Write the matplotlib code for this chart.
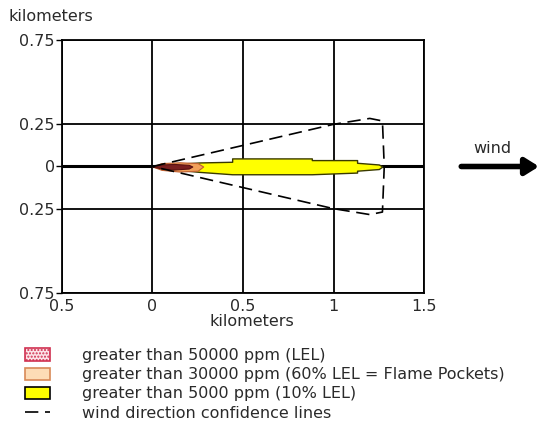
import matplotlib
matplotlib.use("Agg")
import matplotlib.pyplot as plt
from matplotlib.patches import Patch
from matplotlib.lines import Line2D

# ticks (labels shown without sign, as in the original)
x_ticks = [-0.5, 0, 0.5, 1, 1.5]
x_labels = ["0.5", "0", "0.5", "1", "1.5"]
y_ticks = [0.75, 0.25, 0, -0.25, -0.75]
y_labels = ["0.75", "0.25", "0", "0.25", "0.75"]

# plume footprints, km downwind / km crosswind
yellow_x = [0, 0.1, 0.26, 0.44, 0.44, 0.88, 0.88, 1.13, 1.13, 1.25, 1.27]
yellow_top = [0, 0.014, 0.024, 0.028, 0.048, 0.048, 0.038, 0.038, 0.022, 0.012, 0]
yellow_bot = [0, -0.016, -0.032, -0.046, -0.046, -0.046, -0.046, -0.036, -0.025, -0.015, 0]

orange_x = [0, 0.05, 0.15, 0.25, 0.28]
orange_top = [0, 0.02, 0.025, 0.02, 0]
orange_bot = [0, -0.02, -0.03, -0.025, 0]

red_x = [0, 0.05, 0.12, 0.2, 0.22]
red_top = [0, 0.012, 0.015, 0.01, 0]
red_bot = [0, -0.012, -0.018, -0.012, 0]

# wind direction confidence lines
conf_x = [0, 1.0, 1.2, 1.27, 1.28, 1.27, 1.2, 1.0, 0]
conf_y = [0, 0.25, 0.285, 0.27, 0, -0.27, -0.285, -0.25, 0]

legend_labels = [
    "greater than 50000 ppm (LEL)",
    "greater than 30000 ppm (60% LEL = Flame Pockets)",
    "greater than 5000 ppm (10% LEL)",
    "wind direction confidence lines",
]

plt.rcParams['font.family'] = ['DejaVu Sans']
fs = 11.5
txt = '#2a2a2a'

fig = plt.figure(figsize=(5.58, 4.37), dpi=100)
ax = fig.add_axes([0.111, 0.3295, 0.649, 0.579])

ax.set_xlim(-0.5, 1.5)
ax.set_ylim(-0.75, 0.75)
ax.set_xticks(x_ticks)
ax.set_xticklabels(x_labels, fontsize=fs, color=txt)
ax.set_yticks(y_ticks)
ax.set_yticklabels(y_labels, fontsize=fs, color=txt)
ax.tick_params(axis='x', length=0, pad=4)
ax.tick_params(axis='y', length=4, width=1, pad=1)
ax.grid(True, color='black', lw=1.3)
ax.axhline(0, color='black', lw=2.2, zorder=1)
for s in ax.spines.values():
    s.set_linewidth(1.3)

ax.fill_between(yellow_x, yellow_bot, yellow_top, facecolor='#ffff00',
                edgecolor='#3a3a00', lw=1, zorder=3)
ax.fill_between(orange_x, orange_bot, orange_top, facecolor='#f2a15a',
                edgecolor='#c06030', lw=0.8, zorder=4)
ax.fill_between(red_x, red_bot, red_top, facecolor='#7a1f1f',
                edgecolor='#5a1010', lw=0.8, zorder=5)
ax.plot(conf_x, conf_y, color='black', lw=1.2, ls=(0, (8, 4)), zorder=6)

ax.set_xlabel("kilometers", fontsize=fs, labelpad=0, color=txt, x=0.525)
fig.text(0.015, 0.952, "kilometers", fontsize=fs, color=txt)

# wind arrow outside the plot
ax.annotate("", xy=(2.15, 0), xytext=(1.69, 0), annotation_clip=False,
            arrowprops=dict(arrowstyle='-|>,head_length=0.8,head_width=0.5',
                            color='black', lw=4))
ax.text(1.88, 0.06, "wind", fontsize=fs, ha='center', va='bottom',
        color=txt, clip_on=False)

handles = [
    Patch(facecolor='#fbe4e8', edgecolor='#d03050', hatch='.....', lw=1.2),
    Patch(facecolor='#fddcb6', edgecolor='#d88a58', lw=1.2),
    Patch(facecolor='#ffff00', edgecolor='black', lw=1.2),
    Line2D([0], [0], color='black', lw=1.2, ls=(0, (8, 4))),
]
fig.legend(handles, legend_labels, loc='upper left', bbox_to_anchor=(0.033, 0.218),
           frameon=False, fontsize=fs, handlelength=1.55, handleheight=0.8,
           handletextpad=2.0, labelspacing=0.26, borderaxespad=0,
           labelcolor=txt)

fig.savefig("out.png", dpi=100)
